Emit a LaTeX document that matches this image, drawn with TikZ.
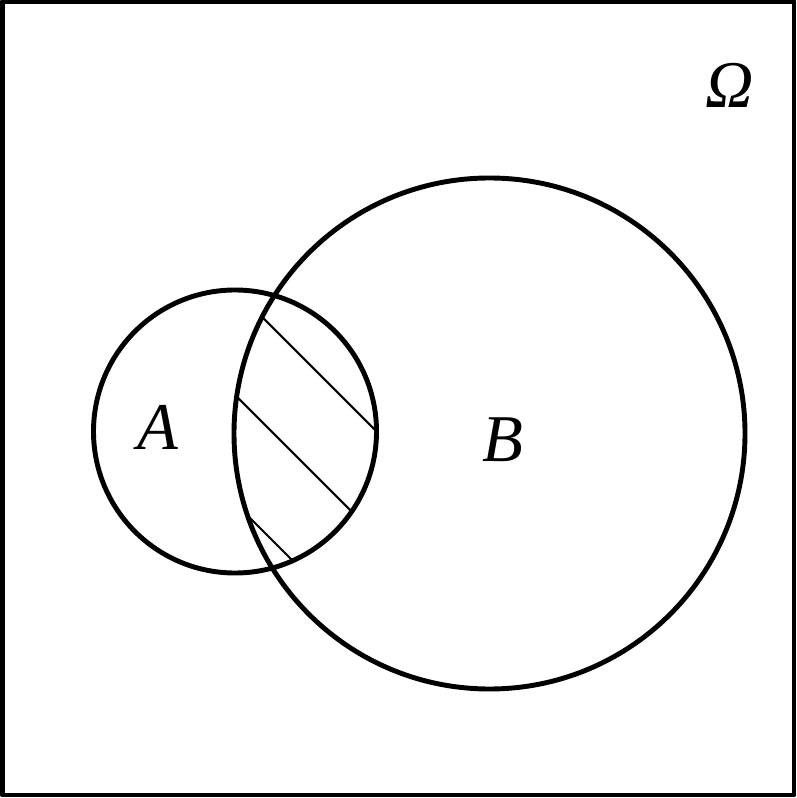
\documentclass[tikz,border=0pt]{standalone}
\usepackage{fontspec}
\setmainfont{Liberation Serif}
\usetikzlibrary{positioning}
\tikzset{
  every picture/.style={line cap=round, line join=round},
  px/.style={x=0.01cm, y=-0.01cm},
  setline/.style={line width=1.4pt},
  hatch/.style={line width=0.6pt},
  setlabel/.style={font=\fontsize{19}{22}\selectfont\itshape},
}
\begin{document}
\begin{tikzpicture}[px]
  \useasboundingbox (0,0) rectangle (796,798);
  \draw[line width=1.4pt] (2.5,1.5) rectangle (794,795);
  \coordinate (ca) at (235,431.5);
  \coordinate (cb) at (489.5,433.5);
  % hatching of the intersection
  \begin{scope}
    \clip (ca) circle (141.5);
    \clip (cb) circle (255.5);
    \foreach \c in {55,160,268}
      \draw[hatch] (0,\c) -- ++(600,600);
  \end{scope}
  \draw[setline] (ca) circle (141.5);
  \draw[setline] (cb) circle (255.5);
  \node[setlabel] (la) at (158,427) {A};
  \node[setlabel] (lb) at (503,440) {B};
  \node[setlabel] (lom) at (730,85) {Ω};
\end{tikzpicture}
\end{document}
